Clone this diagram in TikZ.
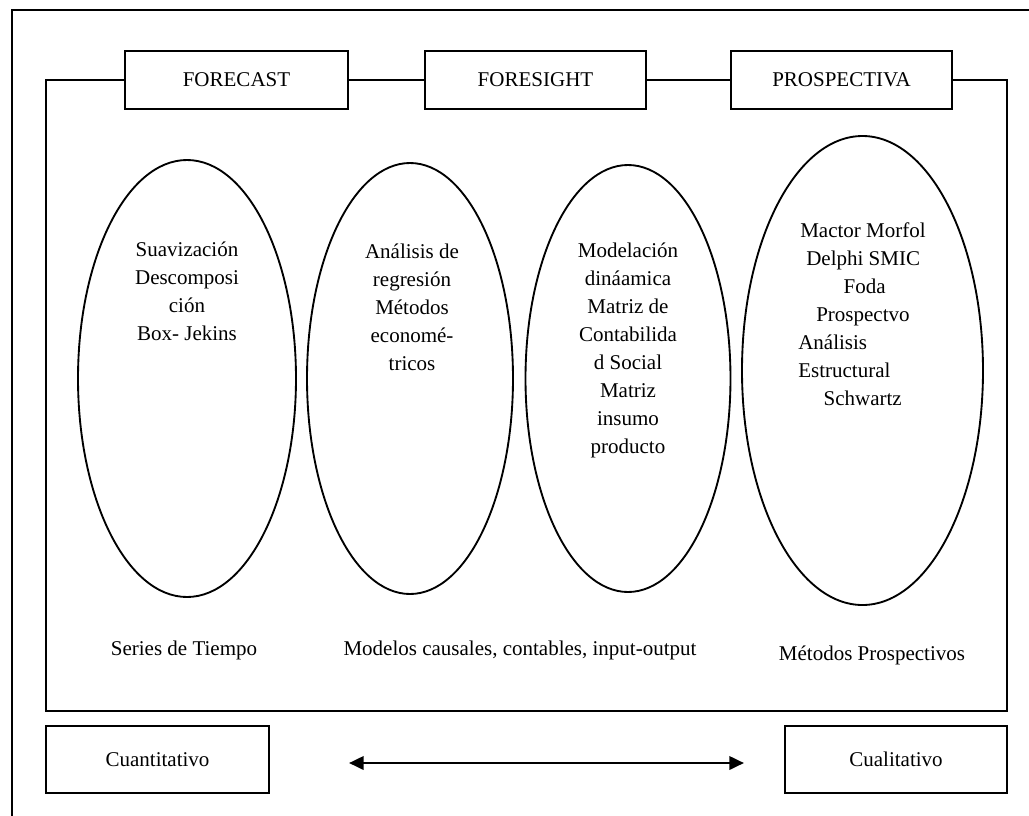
\documentclass[tikz,border=0pt]{standalone}
\usepackage{fontspec}
\setmainfont{Liberation Serif}
\usetikzlibrary{arrows.meta,shapes.geometric}

\begin{document}
\begin{tikzpicture}[x=0.75pt, y=-0.75pt,
    every node/.style={font=\fontsize{15.75}{21}\selectfont},
    box/.style={draw, line width=1.6pt, inner sep=0pt, minimum height=43.5pt},
    lowbox/.style={draw, line width=1.6pt, inner sep=0pt, minimum height=50.25pt},
    oval/.style={draw, ellipse, line width=1.4pt, inner sep=0pt},
    frame/.style={line width=1.6pt},
    methods/.style={align=center, inner sep=0pt}]
    \useasboundingbox (0,0) rectangle (1029,815);
    % outer frame (open on the right and at the bottom)
    \draw[frame] (1040,10) -- (12,10) -- (12,830);
    % the three schools
    \node[box, minimum width=167.25pt] (forecast) at (236.5,80) {FORECAST};
    \node[box, minimum width=165.75pt] (foresight) at (535.5,80) {FORESIGHT};
    \node[box, minimum width=165.75pt] (prosp) at (841.5,80) {PROSPECTIVA};
    \draw[frame] (forecast.west) -- (46,80) -- (46,711) -- (1007,711) -- (1007,80) -- (prosp.east);
    \draw[frame] (forecast.east) -- (foresight.west);
    \draw[frame] (foresight.east) -- (prosp.west);
    % ellipses
    \node[oval, minimum width=163.5pt, minimum height=327.75pt] (e1) at (187,378.5) {};
    \node[oval, minimum width=154.5pt, minimum height=323.25pt] (e2) at (410,378.5) {};
    \node[oval, minimum width=153.75pt, minimum height=320.25pt] (e3) at (628,378.5) {};
    \node[oval, minimum width=180.75pt, minimum height=351.75pt] (e4) at (862.5,370.5) {};
    \node[methods] (t1) at (187,291.5) {Suavización\\Descomposi\\ción\\Box- Jekins};
    \node[methods] (t2) at (412,307.5) {Análisis de\\regresión\\Métodos\\economé-\\tricos};
    \node[methods] (t3) at (628,350.5) {Modelación\\dináamica\\Matriz de\\Contabilida\\d Social\\Matriz\\insumo\\producto};
    \node[methods, align=left, anchor=west] (t4) at (798,314.5) {\hspace*{1.5pt}Mactor Morfol\\\hspace*{6pt}Delphi SMIC\\\hspace*{34pt}Foda\\\hspace*{13.5pt}Prospectvo\\Análisis\\Estructural\\\hspace*{19pt}Schwartz};
    % groups
    \node (series) at (184,650) {Series de Tiempo};
    \node (causal) at (520,650) {Modelos causales, contables, input-output};
    \node (metodos) at (872,655) {Métodos Prospectivos};
    % scale
    \node[lowbox, minimum width=167.25pt] (cuanti) at (157.5,759.5) {Cuantitativo};
    \node[lowbox, minimum width=166.5pt] (cuali) at (896,759.5) {Cualitativo};
    \coordinate (al) at (349,763);
    \coordinate (ar) at (744,763);
    \draw[line width=2pt, {Triangle[length=11pt,width=10pt]}-{Triangle[length=11pt,width=10pt]}] (al) -- (ar);
\end{tikzpicture}
\end{document}
